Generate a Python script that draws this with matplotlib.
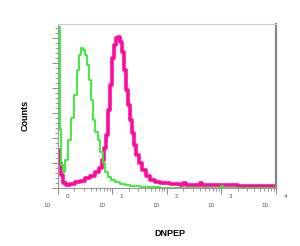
import numpy as np
import matplotlib
matplotlib.use("Agg")
import matplotlib.pyplot as plt
from matplotlib.ticker import MultipleLocator, FixedLocator

plt.rcParams['font.family'] = ['Liberation Sans', 'DejaVu Sans']

# isotype control (green), positions in log10 units of fluorescence
green_pos = [0.00, 0.03, 0.06, 0.09, 0.13, 0.18, 0.24, 0.29, 0.35, 0.39, 0.42,
             0.46, 0.50, 0.53, 0.57, 0.61, 0.64, 0.68, 0.73, 0.77, 0.83, 0.86,
             0.92, 0.97, 1.05, 1.14, 1.23, 1.32, 1.50, 1.69, 1.87, 2.00, 3.00,
             3.03, 4.00]
green_cnt = [161, 58, 23, 16, 28, 48, 70, 93, 118, 133, 140, 138, 133, 123,
             108, 88, 68, 56, 48, 36, 25, 16, 11, 8, 6, 4, 3, 2, 1, 1, 0, 0,
             2, 0, 0]

# DNPEP stained sample (pink)
pink_pos = [0.00, 0.02, 0.06, 0.09, 0.15, 0.22, 0.31, 0.40, 0.50, 0.59, 0.68,
            0.75, 0.81, 0.84, 0.88, 0.92, 0.95, 0.99, 1.03, 1.06, 1.10, 1.14,
            1.17, 1.21, 1.25, 1.28, 1.32, 1.36, 1.39, 1.43, 1.49, 1.54, 1.62,
            1.69, 1.78, 1.87, 2.06, 2.24, 2.30, 2.35, 2.60, 2.65, 3.00, 3.30,
            4.00]
pink_cnt = [38, 25, 13, 5, 3, 4, 6, 7, 10, 12, 16, 20, 28, 40, 53, 78, 103,
            130, 143, 150, 151, 146, 136, 118, 98, 83, 68, 55, 43, 33, 25, 18,
            12, 8, 6, 5, 4, 3, 5, 3, 5, 3, 3, 2, 2]

decades = [0, 1, 2, 3, 4]

fig = plt.figure(figsize=(3.0, 2.46), dpi=100)
ax = fig.add_axes([0.193, 0.236, 0.727, 0.666])

ax.step(pink_pos, pink_cnt, where='post', color='#ff0a9c', lw=2.6)
ax.step(green_pos, green_cnt, where='post', color='#30ea30', lw=1.3)

ax.set_xlim(0, 4)
ax.set_ylim(0, 164)

# log-style decade ticks
minor = [d + np.log10(k) for d in range(4) for k in range(2, 10)]
ax.xaxis.set_major_locator(FixedLocator(decades))
ax.xaxis.set_minor_locator(FixedLocator(minor))
ax.yaxis.set_major_locator(MultipleLocator(25))
ax.yaxis.set_minor_locator(MultipleLocator(5))
ax.tick_params(axis='both', which='major', length=4, width=0.7, color='#888888',
               labelbottom=False, labelleft=False)
ax.tick_params(axis='both', which='minor', length=2, width=0.6, color='#888888')

for d in decades:
    ax.text(d - 0.2, -0.105, '10', transform=ax.get_xaxis_transform(),
            ha='center', va='center', fontsize=4.5, color='#555555')
    ax.text(d + 0.17, -0.05, str(d), transform=ax.get_xaxis_transform(),
            ha='center', va='center', fontsize=4.5, color='#555555')

for side in ['left', 'bottom']:
    ax.spines[side].set_color('#999999')
    ax.spines[side].set_linewidth(0.8)
ax.spines['top'].set_color('#cccccc')
ax.spines['top'].set_linewidth(0.8)
ax.spines['right'].set_color('#888888')
ax.spines['right'].set_linewidth(1.6)

fig.text(0.085, 0.53, 'Counts', rotation=90, ha='center', va='center',
         fontsize=6.5, fontweight='bold')
fig.text(0.567, 0.052, 'DNPEP', ha='center', va='center',
         fontsize=6.5, fontweight='bold')

fig.savefig('out.png', dpi=100)
